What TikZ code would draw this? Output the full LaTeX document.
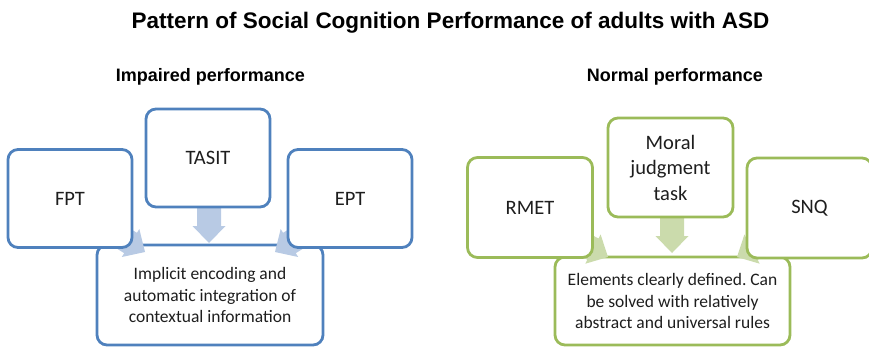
\documentclass[tikz,border=0pt]{standalone}
\usepackage{fontspec}
\setmainfont{Carlito}
\newfontfamily\headfont{Liberation Sans}
\usetikzlibrary{calc}
\frenchspacing

\definecolor{lineBlue}{RGB}{79,129,189}
\definecolor{fillBlue}{RGB}{184,202,228}
\definecolor{lineGreen}{RGB}{155,187,89}
\definecolor{fillGreen}{RGB}{203,219,172}
\definecolor{bodyText}{RGB}{30,30,30}

\pgfdeclarelayer{back}
\pgfdeclarelayer{mid}
\pgfsetlayers{back,mid,main}

% block arrow from a tail point to a tip point
\newcommand{\cvHeadLen}{17pt}
\newcommand{\cvHeadHalf}{16.5pt}
\newcommand{\cvShaftHalf}{12pt}
\newcommand{\convarrow}[3]{%
  \fill[#1]
    (#3)
    -- ($(#3)!\cvHeadLen!(#2)!\cvHeadHalf!90:(#3)$)
    -- ($(#3)!\cvHeadLen!(#2)!\cvShaftHalf!90:(#3)$)
    -- ($(#2)!\cvShaftHalf!90:(#3)$)
    -- ($(#2)!\cvShaftHalf!-90:(#3)$)
    -- ($(#3)!\cvHeadLen!(#2)!\cvShaftHalf!-90:(#3)$)
    -- ($(#3)!\cvHeadLen!(#2)!\cvHeadHalf!-90:(#3)$)
    -- cycle;}

\begin{document}
\begin{tikzpicture}[x=1pt,y=-1pt,
  box/.style={draw=#1, line width=2.8pt, rounded corners=10pt, fill=white,
    inner sep=0pt, align=center, text=bodyText},
  outerbox/.style={box=#1, minimum width=124pt, minimum height=98pt,
    font=\fontsize{20.5}{25.5}\selectfont},
  centrebox/.style={box=#1, font=\fontsize{17.5}{21.7}\selectfont},
  heading/.style={anchor=base, text=black, font=\headfont\bfseries\fontsize{18}{21}\selectfont}]
\useasboundingbox (0,0) rectangle (869,349);
\clip (0,0) rectangle (869,349);

% titles
\node[heading, font=\headfont\bfseries\fontsize{22.5}{27}\selectfont] (title) at (450.5,28.5)
  {Pattern of Social Cognition Performance of adults with ASD};
\node[heading] (impaired) at (210.5,81) {Impaired performance};
\node[heading] (normal) at (675,81) {Normal performance};

% impaired performance: tasks
\node[outerbox=lineBlue] (fpt) at (70,198.5) {FPT};
\node[outerbox=lineBlue] (tasit) at (208,158) {TASIT};
\node[outerbox=lineBlue] (ept) at (350,198.5) {EPT};

\begin{pgfonlayer}{back}
\node[centrebox=lineBlue, minimum width=226pt, minimum height=100pt] (implicit) at (210,295)
  {Implicit encoding and\\automatic integration of\\contextual information};
\end{pgfonlayer}

\coordinate (fptTail) at (105,227);
\coordinate (fptTip) at (145,252);
\coordinate (tasitTail) at (209,195);
\coordinate (tasitTip) at (209,243);
\coordinate (eptTail) at (315,227);
\coordinate (eptTip) at (275,252);

\begin{pgfonlayer}{mid}
\convarrow{fillBlue}{fptTail}{fptTip}
\convarrow{fillBlue}{tasitTail}{tasitTip}
\convarrow{fillBlue}{eptTail}{eptTip}
\end{pgfonlayer}

% normal performance: tasks
\node[outerbox=lineGreen, minimum width=125pt, minimum height=100pt] (rmet) at (530,207.5) {RMET};
\node[outerbox=lineGreen, minimum width=125pt, minimum height=99pt] (moral) at (670.5,167.5) {Moral\\judgment\\task};
\node[outerbox=lineGreen, minimum width=125pt, minimum height=100pt] (snq) at (809.5,208) {SNQ};

\begin{pgfonlayer}{back}
\node[centrebox=lineGreen, minimum width=235pt, minimum height=88pt] (rules) at (672.5,301)
  {Elements clearly defined. Can\\be solved with relatively\\abstract and universal rules};
\end{pgfonlayer}

\coordinate (rmetTail) at (568,236);
\coordinate (rmetTip) at (608,257);
\coordinate (moralTail) at (672,205);
\coordinate (moralTip) at (672,253);
\coordinate (snqTail) at (777,236);
\coordinate (snqTip) at (737,257);

\begin{pgfonlayer}{mid}
\convarrow{fillGreen}{rmetTail}{rmetTip}
\convarrow{fillGreen}{moralTail}{moralTip}
\convarrow{fillGreen}{snqTail}{snqTip}
\end{pgfonlayer}
\end{tikzpicture}
\end{document}
